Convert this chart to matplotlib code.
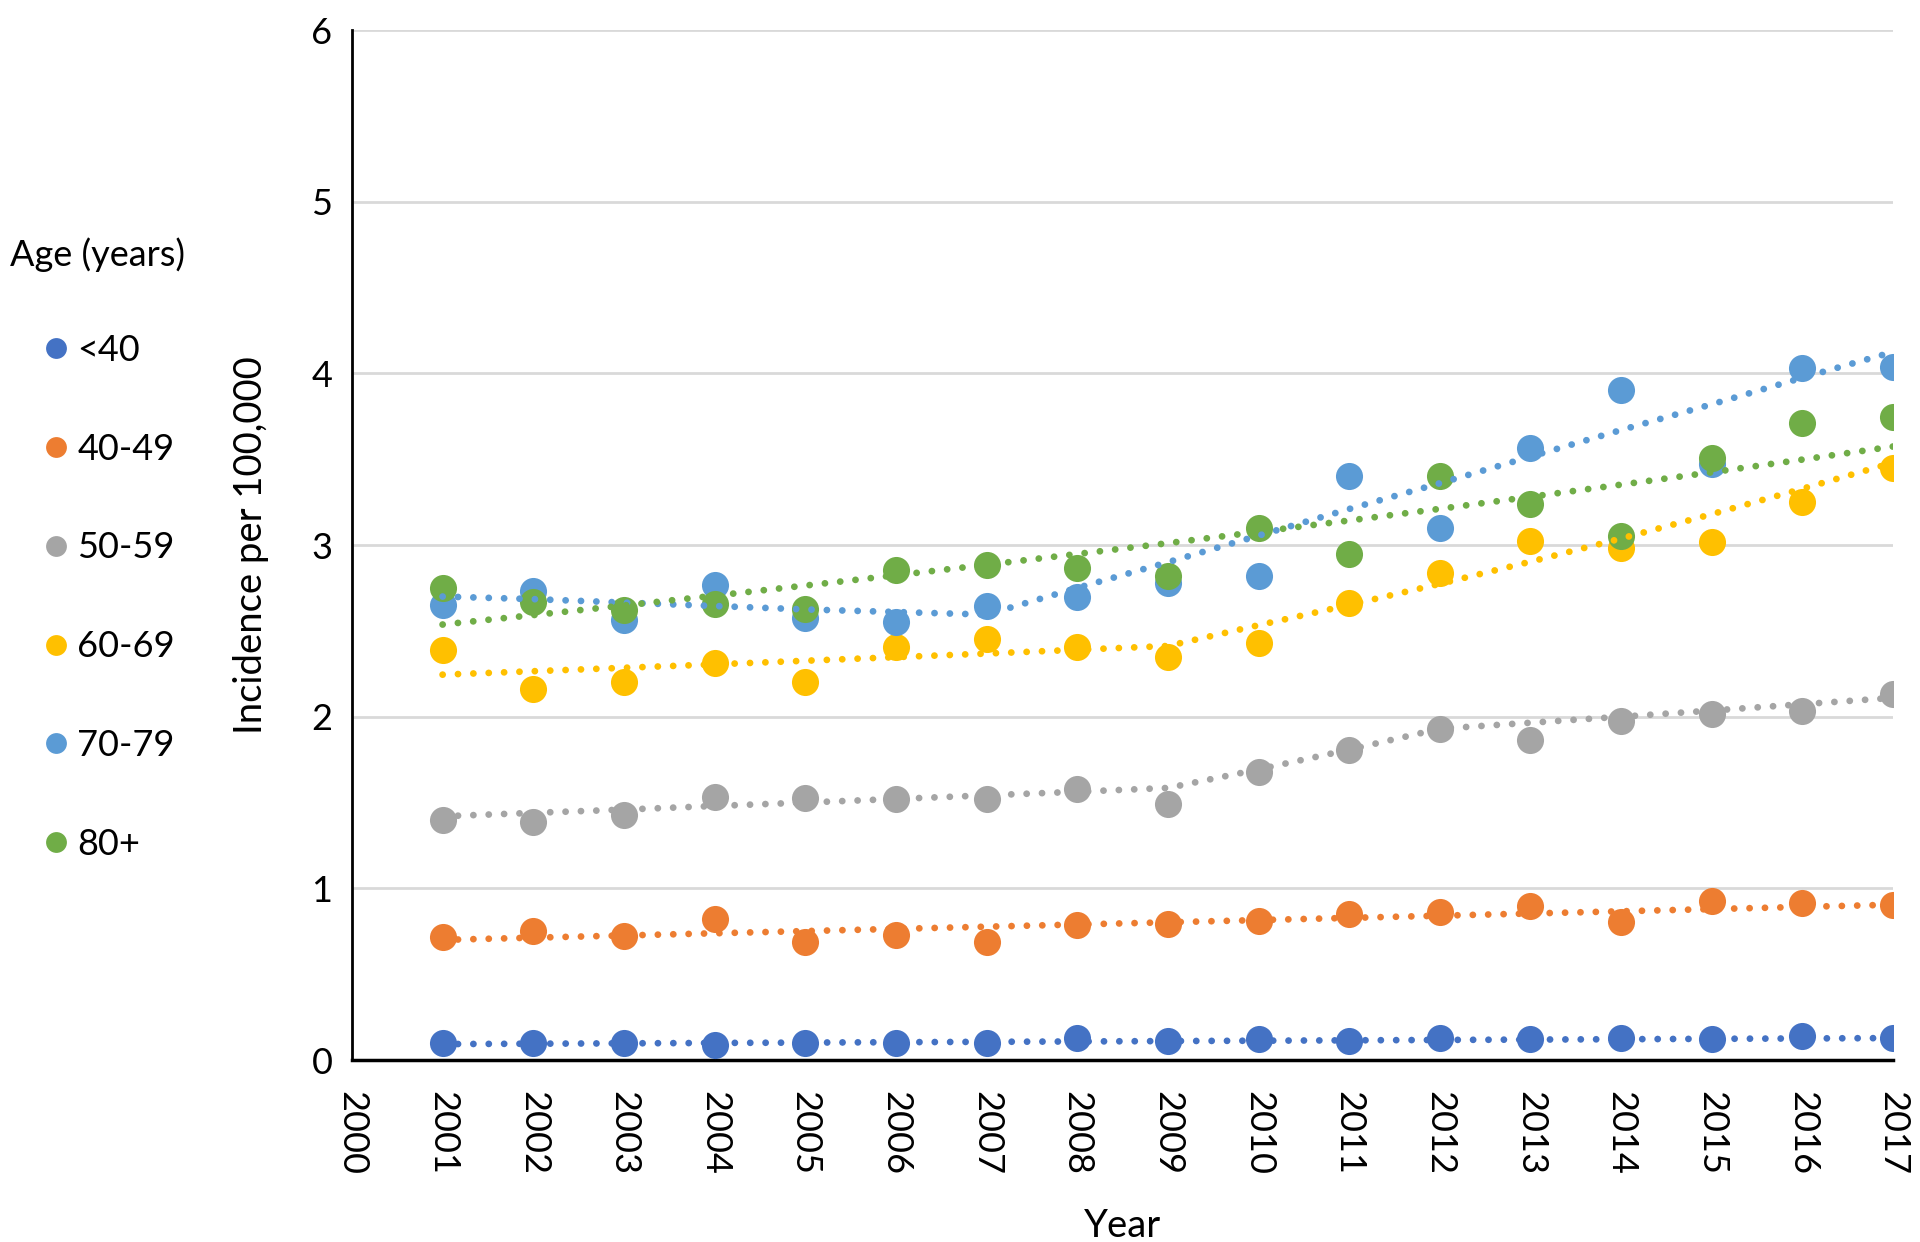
import matplotlib
matplotlib.use("Agg")
import matplotlib.pyplot as plt
from matplotlib.lines import Line2D

plt.rcParams['font.family'] = ['Lato', 'DejaVu Sans']

years = list(range(2001, 2018))
age_groups = ['<40', '40-49', '50-59', '60-69', '70-79', '80+']
colors = ['#4472C4', '#ED7D31', '#A5A5A5', '#FFC000', '#5B9BD5', '#70AD47']

# observed incidence per 100,000
lt40 = [0.10, 0.10, 0.10, 0.09, 0.10, 0.10, 0.10, 0.13, 0.11, 0.12, 0.11, 0.13, 0.12, 0.13, 0.12, 0.14, 0.13]
a40_49 = [0.715, 0.75, 0.725, 0.82, 0.685, 0.73, 0.685, 0.785, 0.79, 0.81, 0.85, 0.86, 0.895, 0.805, 0.925, 0.915, 0.905]
a50_59 = [1.40, 1.385, 1.425, 1.535, 1.525, 1.52, 1.52, 1.58, 1.49, 1.68, 1.805, 1.93, 1.865, 1.975, 2.015, 2.035, 2.13]
a60_69 = [2.39, 2.16, 2.20, 2.315, 2.20, 2.405, 2.455, 2.405, 2.345, 2.43, 2.665, 2.835, 3.025, 2.98, 3.02, 3.25, 3.45]
a70_79 = [2.65, 2.735, 2.565, 2.765, 2.575, 2.55, 2.645, 2.70, 2.78, 2.82, 3.40, 3.10, 3.565, 3.905, 3.47, 4.03, 4.04]
a80p = [2.75, 2.67, 2.62, 2.655, 2.63, 2.855, 2.885, 2.865, 2.82, 3.10, 2.95, 3.40, 3.24, 3.05, 3.51, 3.71, 3.745]
observed = [lt40, a40_49, a50_59, a60_69, a70_79, a80p]

# fitted (joinpoint) trend values
trend_lt40 = [0.093, 0.128]
trend_40_49 = [0.70, 0.905]
trend_50_59 = [1.42, 1.44, 1.459, 1.48, 1.50, 1.521, 1.542, 1.563, 1.585,
               1.693, 1.808, 1.93, 1.965, 2.00, 2.036, 2.073, 2.11]
trend_60_69 = [2.245, 2.265, 2.285, 2.305, 2.326, 2.347, 2.368, 2.39, 2.412,
               2.533, 2.651, 2.774, 2.903, 3.038, 3.18, 3.328, 3.48]
trend_70_79 = [2.70, 2.685, 2.665, 2.645, 2.625, 2.61, 2.595, 2.75, 2.90,
               3.055, 3.21, 3.36, 3.515, 3.67, 3.82, 3.975, 4.125]
trend_80p = [2.537, 2.592, 2.648, 2.705, 2.764, 2.824, 2.885, 2.948, 3.011,
             3.077, 3.143, 3.211, 3.281, 3.352, 3.424, 3.498, 3.574]
trends = [trend_lt40, trend_40_49, trend_50_59, trend_60_69, trend_70_79, trend_80p]

fig = plt.figure(figsize=(19.2, 12.42), dpi=100)
ax = fig.add_axes([0.1833, 0.1465, 0.8027, 0.8293])

for i, name in enumerate(age_groups):
    ax.plot(years, observed[i], 'o', color=colors[i], markersize=19.5,
            markeredgewidth=0, zorder=3 + i * 0.1)
for i, name in enumerate(age_groups):
    t = trends[i]
    tx = years if len(t) == len(years) else [years[0], years[-1]]
    ax.plot(tx, t, color=colors[i], lw=4.9,
            linestyle=(0, (0.01, 2.25)), dash_capstyle='round', zorder=5)

ax.set_xlim(2000, 2017)
ax.set_ylim(0, 6)
ax.set_xticks(range(2000, 2018))
ax.set_xticklabels([str(y) for y in range(2000, 2018)], rotation=-90)
ax.set_yticks(range(0, 7))
ax.tick_params(axis='both', length=0, labelsize=26)
ax.tick_params(axis='y', pad=14)
ax.tick_params(axis='x', pad=22)
ax.grid(axis='y', color='#D9D9D9', lw=2)
ax.set_axisbelow(True)
for s in ['top', 'right']:
    ax.spines[s].set_visible(False)
ax.spines['left'].set_linewidth(2)
ax.spines['bottom'].set_linewidth(2.5)

ax.set_xlabel('Year', fontsize=27.5)
ax.set_ylabel('Incidence per 100,000', fontsize=27.5)
ax.xaxis.set_label_coords(0.5, -0.144)
ax.yaxis.set_label_coords(-0.054, 0.5)

fig.text(0.005, 1 - 255 / 1242, 'Age (years)', fontsize=26, va='center', ha='left')
handles = [Line2D([], [], marker='o', color=c, linestyle='none', markersize=15,
                  markeredgewidth=0) for c in colors]
fig.legend(handles, age_groups, loc='upper left', bbox_to_anchor=(0.0026, 1 - 301.5 / 1242),
           frameon=False, fontsize=26, handletextpad=0.1, labelspacing=1.82,
           handlelength=1.0)

fig.savefig('out.png', dpi=100)
